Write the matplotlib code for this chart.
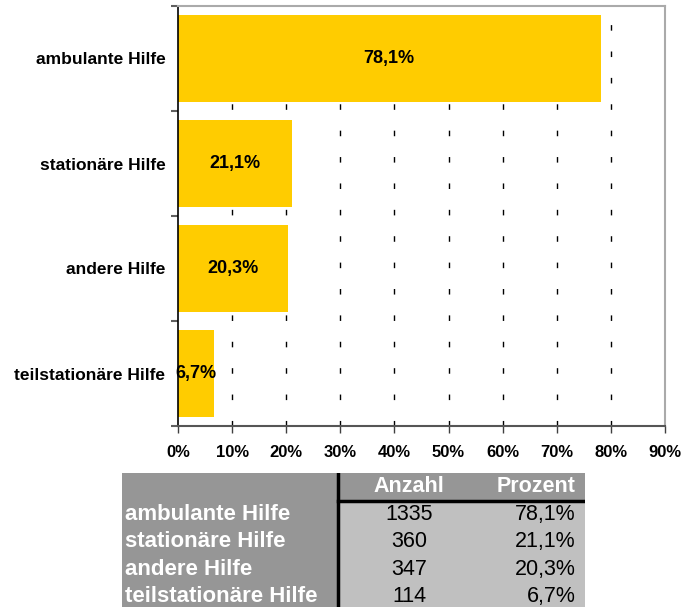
import numpy as np
import matplotlib.pyplot as plt
from matplotlib.patches import Rectangle

plt.rcParams['font.family'] = ['Liberation Sans', 'DejaVu Sans']

categories = ["ambulante Hilfe", "stationäre Hilfe", "andere Hilfe", "teilstationäre Hilfe"]
counts = [1335, 360, 347, 114]
percents = [78.1, 21.1, 20.3, 6.7]
x_ticks = [0, 10, 20, 30, 40, 50, 60, 70, 80, 90]

W, H = 698, 607
fig = plt.figure(figsize=(W / 100, H / 100), dpi=100)

# bar chart area
ax = fig.add_axes([178 / W, 1 - 426 / H, (665 - 178) / W, (426 - 6) / H])
y = np.arange(len(categories))
ax.barh(y, percents, height=0.83, color='#FFCC00', zorder=2)
ax.set_ylim(len(categories) - 0.5, -0.5)
ax.set_xlim(0, 90)

def pct(v):
    return ("%.1f%%" % v).replace(".", ",")

for i, v in enumerate(percents):
    ax.text(v / 2, i, pct(v), ha='center', va='center',
            fontsize=13, fontweight='bold', zorder=3)

ax.set_xticks(x_ticks)
ax.set_xticklabels(["%d%%" % t for t in x_ticks], fontsize=12, fontweight='bold')
ax.set_yticks(y)
ax.set_yticklabels(categories, fontsize=12.5, fontweight='bold')
ax.tick_params(axis='y', length=0, pad=9)
ax.tick_params(axis='x', length=5, width=1, color='#404040', pad=9, direction='out')

# boundary ticks between categories
ax.set_yticks(np.arange(-0.5, len(categories)), minor=True)
ax.tick_params(axis='y', which='minor', length=5, width=1.5, color='#606060')

for t in x_ticks[1:-1]:
    ax.axvline(t, color='black', lw=1, linestyle=(0, (4, 15)), zorder=1)

ax.spines['left'].set_color('black')
ax.spines['left'].set_linewidth(1.2)
ax.spines['bottom'].set_color('#555555')
ax.spines['bottom'].set_linewidth(1.5)
ax.spines['top'].set_color('#AAAAAA')
ax.spines['top'].set_linewidth(1.5)
ax.spines['right'].set_color('#AAAAAA')
ax.spines['right'].set_linewidth(1.5)

# data table below the chart
tx0, tx1, ty0 = 122, 585, 473
tab = fig.add_axes([tx0 / W, 0, (tx1 - tx0) / W, (H - ty0) / H])
tab.set_xlim(0, tx1 - tx0)
tab.set_ylim(H - ty0, 0)
tab.axis('off')

dark = '#969696'
light = '#C0C0C0'
split = 338 - tx0
row_h = 27.5
tab.add_patch(Rectangle((0, 0), tx1 - tx0, H - ty0, color=light, lw=0))
tab.add_patch(Rectangle((0, 0), split, H - ty0, color=dark, lw=0))
tab.add_patch(Rectangle((0, 0), tx1 - tx0, row_h, color=dark, lw=0))
tab.plot([split, split], [0, H - ty0], color='black', lw=2.5)
tab.plot([split, tx1 - tx0], [row_h, row_h], color='black', lw=2.5)

col_anz = 409 - tx0
col_pro = 576 - tx0
tab.text(col_anz, row_h / 2, "Anzahl", ha='center', va='center',
         color='white', fontsize=15.5, fontweight='bold')
tab.text(col_pro, row_h / 2, "Prozent", ha='right', va='center',
         color='white', fontsize=15.5, fontweight='bold')
for i, (name, n, p) in enumerate(zip(categories, counts, percents)):
    yc = row_h * (i + 1.5)
    tab.text(3, yc, name, ha='left', va='center', color='white',
             fontsize=16, fontweight='bold')
    tab.text(col_anz, yc, str(n), ha='center', va='center', fontsize=15.5)
    tab.text(col_pro, yc, pct(p), ha='right', va='center', fontsize=15.5)

fig.savefig("out.png", dpi=100)
